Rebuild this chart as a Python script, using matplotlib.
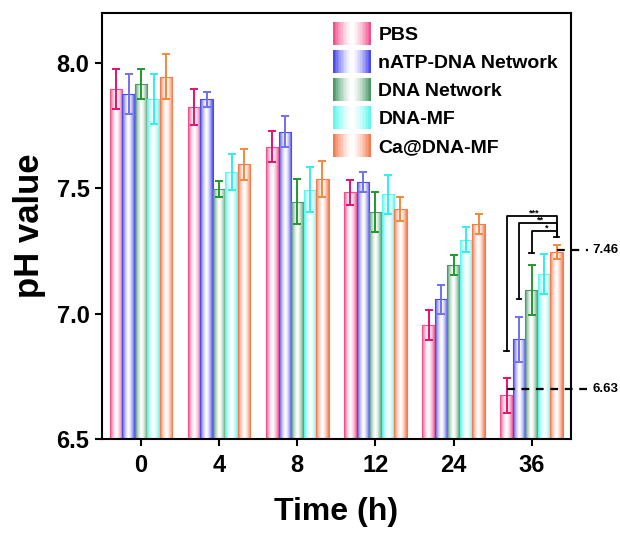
import numpy as np
import matplotlib
matplotlib.use('Agg')
import matplotlib.pyplot as plt
from matplotlib.patches import Patch, Rectangle
from matplotlib.legend_handler import HandlerBase
from matplotlib.colors import to_rgb

# data
times = ['0', '4', '8', '12', '24', '36']
groups = ['PBS', 'nATP-DNA Network', 'DNA Network', 'DNA-MF', 'Ca@DNA-MF']

pbs = [7.896, 7.826, 7.667, 7.485, 6.955, 6.675]
natp = [7.877, 7.855, 7.726, 7.526, 7.057, 6.898]
dna_net = [7.916, 7.497, 7.447, 7.406, 7.196, 7.096]
dna_mf = [7.856, 7.564, 7.495, 7.477, 7.296, 7.157]
ca_mf = [7.946, 7.596, 7.537, 7.417, 7.357, 7.248]

pbs_err = [0.081, 0.071, 0.062, 0.050, 0.061, 0.070]
natp_err = [0.080, 0.031, 0.061, 0.041, 0.059, 0.090]
dna_net_err = [0.061, 0.031, 0.090, 0.080, 0.040, 0.100]
dna_mf_err = [0.100, 0.072, 0.090, 0.078, 0.050, 0.080]
ca_mf_err = [0.091, 0.062, 0.071, 0.048, 0.040, 0.028]

# significance at 36 h: (group index compared with Ca@DNA-MF, bracket top, bracket foot, stars)
sig_left = [0, 1, 2]
sig_top = [7.39, 7.362, 7.329]
sig_foot = [6.85, 7.06, 7.242]
sig_text = ['***', '**', '*']
sig_right_foot = 7.305

# reference levels marked at 36 h
ref_labels = ['7.46', '6.63']
ref_levels = [7.255, 6.70]
ref_from = [4, 0]

values = [pbs, natp, dna_net, dna_mf, ca_mf]
errors = [pbs_err, natp_err, dna_net_err, dna_mf_err, ca_mf_err]
bar_colors = ['#f2508c', '#4a4af0', '#4a9a68', '#5ff7ee', '#f57a4e']
err_colors = ['#e8106e', '#7070f2', '#1f9a2a', '#2ef0f0', '#f08a3a']

plt.rcParams['font.family'] = ['Liberation Sans', 'DejaVu Sans']
plt.rcParams['font.weight'] = 'bold'


def gradient(color, n=64):
    '''white in the middle, full colour at both edges'''
    c = np.array(to_rgb(color))
    t = np.abs(np.linspace(-1, 1, n)) ** 1.5
    rgb = 1 - t[:, None] * (1 - c[None, :])
    return rgb[None, :, :]


class GradientHandler(HandlerBase):
    def create_artists(self, legend, orig_handle, xdescent, ydescent,
                       width, height, fontsize, trans):
        col = gradient(orig_handle.get_facecolor(), 24)[0]
        n = len(col)
        arts = []
        for i in range(n):
            r = Rectangle((-xdescent + i * width / n, -ydescent - 0.15 * height),
                          width / n * 1.05, height * 1.3,
                          facecolor=col[i], edgecolor='none', transform=trans)
            arts.append(r)
        return arts


fig = plt.figure(figsize=(6.2, 5.35), dpi=100)
ax = fig.add_axes([0.1645, 0.1794, 0.756, 0.7963])

x = np.arange(len(times))
width = 0.16
ymin, ymax = 6.5, 8.2

for k in range(len(groups)):
    xs = x + (k - 2) * width
    bars = ax.bar(xs, values[k], width, color='none', edgecolor=bar_colors[k],
                  linewidth=0.8, zorder=2)
    for b in bars:
        im = ax.imshow(gradient(bar_colors[k]), aspect='auto', interpolation='bilinear',
                       extent=(b.get_x(), b.get_x() + b.get_width(), ymin, b.get_height()),
                       zorder=1)
        im.set_clip_path(b)
    ax.errorbar(xs, values[k], yerr=errors[k], fmt='none', ecolor=err_colors[k],
                elinewidth=1.4, capsize=3.0, capthick=1.4, zorder=3)

# significance brackets
ca_x = x[5] + 2 * width
for i in range(len(sig_left)):
    lx = x[5] + (sig_left[i] - 2) * width
    ax.plot([lx, lx, ca_x, ca_x], [sig_foot[i], sig_top[i], sig_top[i], sig_right_foot],
            color='black', lw=1.3, zorder=4)
    ax.plot([lx - 0.03, lx + 0.03], [sig_foot[i]] * 2, color='black', lw=1.3, zorder=4)
    ax.text((lx + ca_x) / 2 + 0.03, sig_top[i] + 0.003, sig_text[i], ha='center',
            va='baseline', fontsize=6.5, zorder=4)
ax.plot([ca_x - 0.03, ca_x + 0.03], [sig_right_foot] * 2, color='black', lw=1.3, zorder=4)

# dashed reference lines
for i in range(len(ref_labels)):
    sx = x[5] + (ref_from[i] - 2) * width
    ax.plot([sx, 5.72], [ref_levels[i]] * 2, color='black', lw=1.6, ls=(0, (3.5, 3)),
            clip_on=False, zorder=4)
    ax.text(5.78, ref_levels[i], ref_labels[i], ha='left', va='center', fontsize=9.5,
            clip_on=False)

ax.set_xlim(-0.5, 5.5)
ax.set_ylim(ymin, ymax)
ax.set_xticks(x)
ax.set_xticklabels(times)
ax.set_yticks([6.5, 7.0, 7.5, 8.0])
ax.set_yticklabels(['6.5', '7.0', '7.5', '8.0'])
ax.tick_params(axis='both', labelsize=17, width=1.5, length=5, pad=4)
ax.tick_params(axis='x', pad=6)
for s in ax.spines.values():
    s.set_linewidth(1.5)

ax.set_xlabel('Time (h)', fontsize=23, fontweight='bold', labelpad=14)
ax.set_ylabel('pH value', fontsize=25, fontweight='bold', labelpad=8)

handles = [Patch(facecolor=c, label=g) for c, g in zip(bar_colors, groups)]
ax.legend(handles=handles, handler_map={Patch: GradientHandler()}, loc='upper left',
          bbox_to_anchor=(0.493, 0.972), frameon=False, borderpad=0, borderaxespad=0,
          prop={'size': 14, 'weight': 'bold'}, handlelength=1.95, handleheight=1.0,
          labelspacing=0.44, handletextpad=0.38)

plt.savefig('out.png', dpi=100)
